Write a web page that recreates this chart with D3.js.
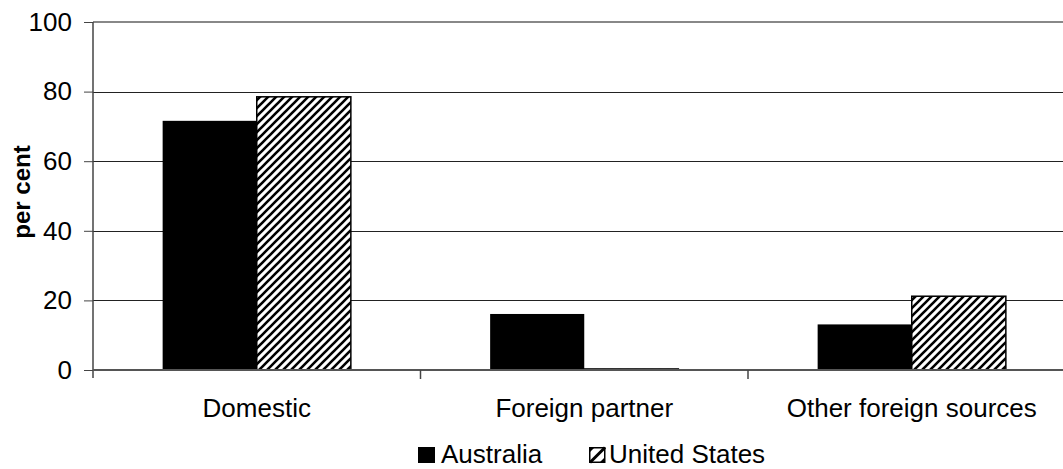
<!DOCTYPE html>
<html>
<head>
<meta charset="utf-8">
<script src="https://cdn.jsdelivr.net/npm/d3@7"></script>
<style>
  html, body { margin: 0; padding: 0; background: #fff; }
  svg { display: block; font-family: "Liberation Sans", Arial, sans-serif; }
</style>
</head>
<body>
<svg id="chart" width="1063" height="469"></svg>
<script>
// Source shares, per cent
const categories = ["Domestic", "Foreign partner", "Other foreign sources"];
const seriesNames = ["Australia", "United States"];
const australia = [71.6, 16.1, 13.1];
const unitedStates = [78.5, 0.3, 21.2];
const yTicks = [0, 20, 40, 60, 80, 100];

const svg = d3.select("#chart");
const W = 1063, H = 469;
const plotLeft = 93, plotTop = 22, plotBottom = 370, plotRight = 1075.5;

const x = d3.scaleBand().domain(categories).range([plotLeft, plotRight]).paddingInner(0).paddingOuter(0);
const inner = d3.scaleBand().domain(seriesNames).range([0, x.bandwidth()]).paddingInner(0).paddingOuter(0.74);
const y = d3.scaleLinear().domain([0, 100]).range([plotBottom, plotTop]);

// Diagonal hatch fill
const defs = svg.append("defs");
const pat = defs.append("pattern")
  .attr("id", "hatch")
  .attr("patternUnits", "userSpaceOnUse")
  .attr("width", 8).attr("height", 8);
pat.append("rect").attr("width", 8).attr("height", 8).attr("fill", "#fff");
pat.append("path")
  .attr("d", "M-2,2 L2,-2 M0,8 L8,0 M6,10 L10,6")
  .attr("stroke", "#000").attr("stroke-width", 2.6);

// Gridlines
svg.append("g")
  .selectAll("line")
  .data(yTicks.filter(d => d > 0 && d < 100))
  .join("line")
  .attr("x1", plotLeft).attr("x2", W)
  .attr("y1", d => Math.round(y(d)) + 0.5).attr("y2", d => Math.round(y(d)) + 0.5)
  .attr("stroke", "#222").attr("stroke-width", 1);

// Top border of plot area
svg.append("line")
  .attr("x1", plotLeft).attr("x2", W)
  .attr("y1", y(100)).attr("y2", y(100))
  .attr("stroke", "#888").attr("stroke-width", 2);

const groups = svg.append("g").selectAll("g")
  .data(categories)
  .join("g")
  .attr("transform", d => `translate(${x(d)},0)`);

groups.append("rect")
  .attr("x", inner("Australia"))
  .attr("width", inner.bandwidth())
  .attr("y", (d, i) => y(australia[i]))
  .attr("height", (d, i) => y(0) - y(australia[i]))
  .attr("fill", "#000");

groups.append("rect")
  .attr("x", inner("United States"))
  .attr("width", inner.bandwidth())
  .attr("y", (d, i) => y(unitedStates[i]))
  .attr("height", (d, i) => y(0) - y(unitedStates[i]))
  .attr("fill", "url(#hatch)")
  .attr("stroke", "#000").attr("stroke-width", 1.5);

// Y axis
const yAxis = d3.axisLeft(y).tickValues(yTicks).tickSize(9).tickPadding(12).tickFormat(d3.format("d"));
const gy = svg.append("g").attr("transform", `translate(${plotLeft},0)`).call(yAxis);
gy.select(".domain").attr("stroke", "#444").attr("stroke-width", 1.5).attr("d", `M0,${plotTop}V${plotBottom + 8}`);
gy.selectAll(".tick line").attr("stroke", "#444");
gy.selectAll(".tick text").attr("font-size", 26).attr("fill", "#000").attr("font-family", "Liberation Sans, Arial, sans-serif");

// X axis
const xAxis = d3.axisBottom(x).tickSize(0).tickPadding(0);
const gx = svg.append("g").attr("transform", `translate(0,${plotBottom})`).call(xAxis);
gx.select(".domain").attr("stroke", "#555").attr("stroke-width", 2).attr("d", `M${plotLeft},0H${W}`);
gx.selectAll(".tick text").attr("font-size", 26).attr("fill", "#000").attr("dy", 0).attr("y", 47)
  .attr("font-family", "Liberation Sans, Arial, sans-serif");
// Category separators
svg.append("g").selectAll("line")
  .data(categories.slice(1))
  .join("line")
  .attr("x1", d => x(d)).attr("x2", d => x(d))
  .attr("y1", plotBottom).attr("y2", plotBottom + 9)
  .attr("stroke", "#444").attr("stroke-width", 1.5);

// Y axis title
svg.append("text")
  .attr("transform", `translate(30,192) rotate(-90)`)
  .attr("text-anchor", "middle")
  .attr("font-size", 24).attr("font-weight", "bold")
  .text("per cent");

// Legend
const legend = svg.append("g");
// Australia swatch
legend.append("rect")
  .attr("x", 418).attr("y", 447).attr("width", 17).attr("height", 16)
  .attr("fill", "#000");
legend.append("text")
  .attr("x", 441).attr("y", 463)
  .attr("font-size", 26)
  .text(seriesNames[0]);
// United States swatch: single diagonal hatch stroke
const sw = legend.append("g").attr("transform", "translate(589,447)");
sw.append("rect").attr("x", 0.75).attr("y", 0.75).attr("width", 15).attr("height", 14.5)
  .attr("fill", "#fff").attr("stroke", "#000").attr("stroke-width", 1.5);
sw.append("path").attr("d", "M1,15.5 L16,0.5").attr("stroke", "#000").attr("stroke-width", 3);
sw.append("path").attr("d", "M0,0 H6 L0,6 Z M16,16 H10 L16,10 Z").attr("fill", "#000");
legend.append("text")
  .attr("x", 609).attr("y", 463)
  .attr("font-size", 26)
  .text(seriesNames[1]);
</script>
</body>
</html>
